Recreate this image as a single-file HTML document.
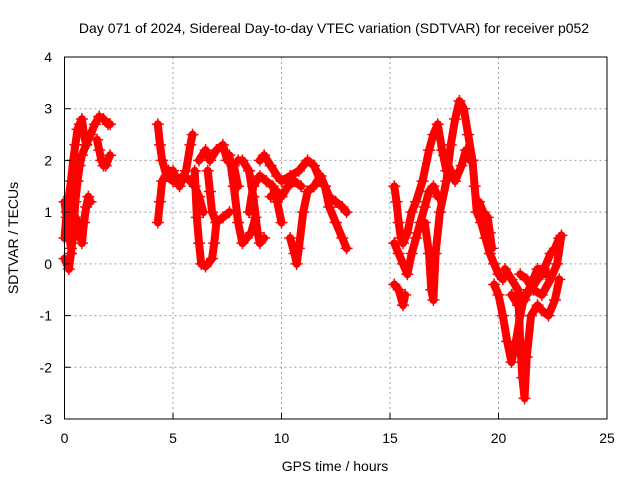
<!DOCTYPE html>
<html><head><meta charset="utf-8"><style>
body{margin:0;background:#fff}
svg text{font-family:"Liberation Sans",sans-serif;font-size:14px;fill:#000}
</style></head><body>
<svg id="chart" width="640" height="480" xmlns="http://www.w3.org/2000/svg">
<rect width="640" height="480" fill="#fff"/>
<text x="334" y="33" text-anchor="middle">Day 071 of 2024, Sidereal Day-to-day VTEC variation (SDTVAR) for receiver p052</text>
<text x="335" y="471" text-anchor="middle">GPS time / hours</text>
<text transform="translate(18,238) rotate(-90)" text-anchor="middle">SDTVAR / TECUs</text>
<g id="grid"></g>
<g id="marks"></g>
<g id="axes"></g>
</svg>
<script>
const xTicks=[0,5,10,15,20,25];
const yTicks=[-3,-2,-1,0,1,2,3,4];
const tracks=[
[[0.0,0.5],[0.1,1.0],[0.2,1.3],[0.3,1.6],[0.4,2.0],[0.5,2.3],[0.6,2.6],[0.7,2.7],[0.8,2.8],[0.9,2.5],[1.0,2.3]],
[[0.0,0.1],[0.2,-0.1],[0.3,0.2],[0.4,0.6],[0.5,1.2],[0.6,1.6],[0.7,1.9],[0.8,2.1],[1.0,2.3],[1.2,2.5],[1.4,2.7],[1.6,2.85],[1.8,2.8],[2.0,2.7],[2.1,2.7]],
[[1.5,2.4],[1.6,2.2],[1.7,2.0],[1.8,1.9],[1.9,1.9],[2.1,2.1]],
[[0.4,0.7],[0.5,0.9],[0.6,0.8],[0.7,0.6],[0.8,0.4],[0.9,0.8],[1.0,1.1],[1.1,1.3],[1.2,1.2]],
[[0.0,1.2],[0.1,0.9],[0.2,0.6],[0.3,0.3],[0.4,0.5]],
[[4.3,2.7],[4.4,2.3],[4.5,2.0],[4.7,1.7],[5.0,1.6],[5.5,1.7],[5.8,1.6],[6.0,1.5],[6.2,1.3],[6.4,1.0]],
[[4.3,0.8],[4.4,1.2],[4.5,1.6],[4.8,1.8],[5.0,1.8],[5.3,1.5],[5.6,1.8],[5.8,2.3],[5.9,2.5]],
[[6.0,1.8],[6.1,0.9],[6.2,0.4],[6.3,0.0],[6.5,-0.05],[6.8,0.1],[6.9,0.4],[7.0,0.8]],
[[6.2,2.0],[6.5,2.2],[6.7,2.0],[7.0,2.2],[7.3,2.3],[7.5,2.0],[7.8,1.9],[8.0,1.5]],
[[6.6,1.8],[6.7,1.4],[6.8,1.0],[7.0,0.8],[7.3,0.9],[7.6,1.0]],
[[7.6,2.1],[7.8,1.5],[8.0,0.8],[8.2,0.4],[8.4,0.5],[8.6,0.6],[8.8,0.9]],
[[8.0,2.0],[8.2,2.0],[8.5,1.8],[8.7,1.3],[8.9,0.6],[9.0,0.4],[9.2,0.5]],
[[8.5,1.0],[8.7,1.5],[9.0,1.7],[9.3,1.6],[9.6,1.5],[9.8,1.2],[10.0,0.8]],
[[9.0,2.0],[9.2,2.1],[9.5,1.9],[9.8,1.7],[10.0,1.6],[10.4,1.7],[10.8,1.8],[11.2,2.0],[11.5,1.9],[11.8,1.6],[12.0,1.5],[12.2,1.3],[12.5,1.2],[12.8,1.1],[13.0,1.0]],
[[10.4,0.5],[10.6,0.2],[10.7,0.0],[10.8,0.3],[11.0,1.0],[11.2,1.4],[11.5,1.5],[11.8,1.7],[12.0,1.5],[12.2,1.1],[12.5,0.8],[12.8,0.5],[13.0,0.3]],
[[9.5,1.3],[9.8,1.4],[10.0,1.3],[10.3,1.5],[10.6,1.6],[10.9,1.5]],
[[15.2,1.5],[15.3,1.2],[15.4,0.8],[15.5,0.5],[15.6,0.4],[15.8,0.6],[16.0,1.0],[16.2,1.2],[16.5,1.6],[16.8,2.2],[17.0,2.5],[17.2,2.7],[17.4,2.2],[17.6,1.8]],
[[15.2,0.4],[15.4,0.2],[15.6,0.0],[15.8,-0.2],[16.0,0.2],[16.2,0.5],[16.4,0.8],[16.6,1.1],[16.8,1.4],[17.0,1.5],[17.2,1.3]],
[[15.2,-0.4],[15.4,-0.5],[15.6,-0.8],[15.7,-0.6]],
[[16.6,0.8],[16.8,0.2],[16.9,-0.5],[17.0,-0.7],[17.1,0.2],[17.3,1.0],[17.6,1.6],[17.8,2.3],[18.0,2.8],[18.2,3.15],[18.4,3.0],[18.6,2.5],[18.8,2.0],[18.9,1.5],[19.0,1.0],[19.2,0.8],[19.4,0.5],[19.6,0.2],[19.8,0.0],[20.0,-0.2],[20.2,-0.3]],
[[17.5,2.1],[17.8,1.8],[18.0,1.6],[18.3,1.9],[18.5,2.2],[18.7,2.0]],
[[19.1,1.2],[19.3,1.0],[19.5,0.9],[19.6,0.6],[19.7,0.3]],
[[19.8,-0.4],[20.0,-0.6],[20.2,-1.0],[20.4,-1.5],[20.6,-1.9],[20.8,-1.5],[21.0,-1.0],[21.2,-0.6],[21.5,-0.5],[21.8,-0.3],[22.0,-0.2],[22.3,-0.2]],
[[20.3,-0.1],[20.6,-0.3],[20.9,-0.5],[21.0,-1.5],[21.1,-2.2],[21.2,-2.6],[21.3,-1.8],[21.5,-1.0],[21.8,-0.8],[22.0,-0.9],[22.3,-1.0],[22.6,-0.7],[22.8,-0.3]],
[[20.6,-0.6],[20.9,-0.8],[21.2,-0.7],[21.5,-0.4],[21.8,-0.1],[22.1,-0.1],[22.4,0.2],[22.6,0.3],[22.8,0.5]],
[[21.0,-0.2],[21.3,-0.3],[21.6,-0.5],[22.0,-0.6],[22.4,-0.3],[22.7,0.0],[22.9,0.55]]
];
const L=64.5,R=607,T=57,B=419,X0=0,X1=25,Y0=-3,Y1=4;
const sx=v=>L+(v-X0)/(X1-X0)*(R-L);
const sy=v=>B-(v-Y0)/(Y1-Y0)*(B-T);
const NS="http://www.w3.org/2000/svg";
function mk(tag,attrs,parent){const e=document.createElementNS(NS,tag);for(const k in attrs)e.setAttribute(k,attrs[k]);parent.appendChild(e);return e;}
const grid=document.getElementById('grid'),axes=document.getElementById('axes'),marks=document.getElementById('marks');
xTicks.forEach(t=>{
  const x=sx(t);
  if(t>X0&&t<X1){const g=mk('line',{x1:x,x2:x,y1:T,y2:B,stroke:'#a0a0a0','stroke-dasharray':'2,3'},grid);
  
  }
  const tk=mk('line',{x1:x,x2:x,y1:B,y2:B-6,stroke:'#000'},axes);
  
  
  const tx=mk('text',{x:x,y:443,'text-anchor':'middle'},axes);tx.textContent=t;
  
  
});
yTicks.forEach(t=>{
  const y=sy(t);
  if(t>Y0&&t<Y1){const g=mk('line',{x1:L,x2:R,y1:y,y2:y,stroke:'#a0a0a0','stroke-dasharray':'2,3'},grid);
  
  }
  const tk=mk('line',{x1:L,x2:L+6,y1:y,y2:y,stroke:'#000'},axes);
  
  
  const tx=mk('text',{x:52,y:y+5,'text-anchor':'end'},axes);tx.textContent=t;
  
  
});
const fr=mk('rect',{x:L,y:T,width:R-L,height:B-T,fill:'none',stroke:'#000'},axes);


tracks.forEach((tr,i)=>{
  const pl=mk('polyline',{points:tr.map(p=>sx(p[0])+','+sy(p[1])).join(' '),fill:'none',stroke:'#ff0000','stroke-width':8,'stroke-linejoin':'round','stroke-linecap':'round'},marks);
  
  
  tr.forEach(p=>{
    const x=sx(p[0]),y=sy(p[1]);
    const m=mk('path',{d:`M${x-6},${y}H${x+6}M${x},${y-6}V${y+6}`,stroke:'#ff0000','stroke-width':1.5},marks);
    
    
  });
});
</script>
</body></html>
